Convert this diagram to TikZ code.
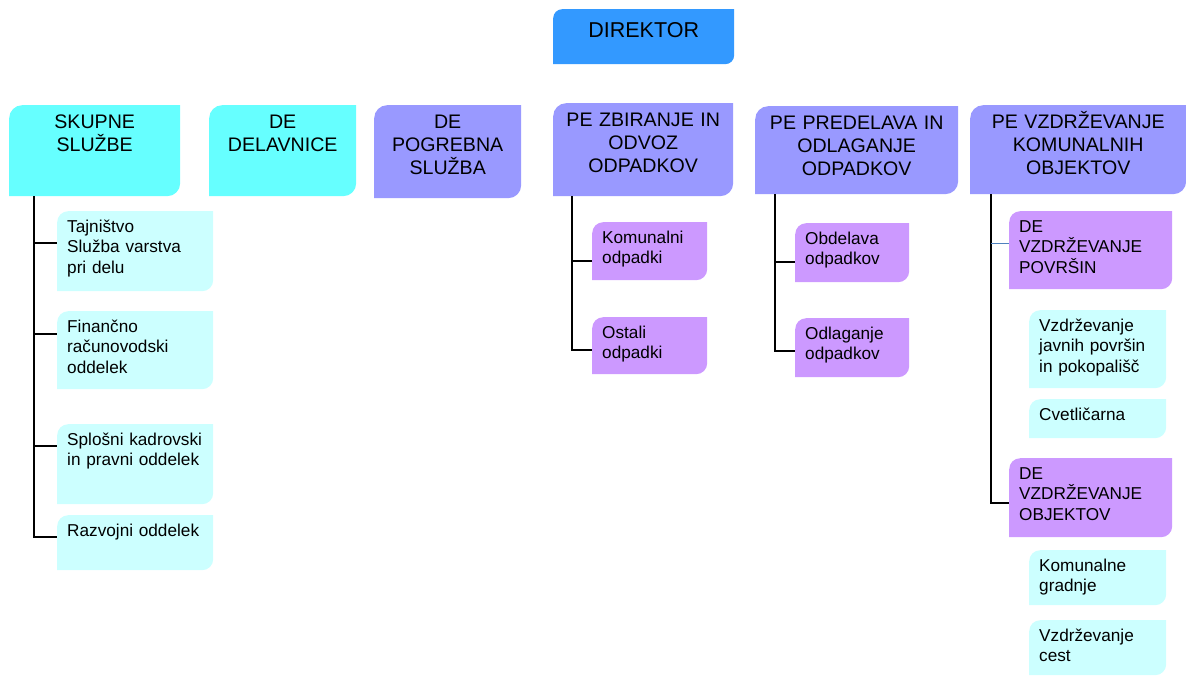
\documentclass[tikz,border=0pt]{standalone}
\usepackage{fontspec}
\setmainfont{Liberation Sans}

\definecolor{dirblue}{HTML}{3399FF}
\definecolor{unitcyan}{HTML}{66FFFF}
\definecolor{unitblue}{HTML}{9999FF}
\definecolor{subviolet}{HTML}{CC99FF}
\definecolor{subcyan}{HTML}{CCFFFF}
\definecolor{linkblue}{HTML}{4F81BD}

\tikzset{
  % fill with rounded top left and bottom right corners
  tlbr/.style 2 args={path picture={
    \fill[#1] (path picture bounding box.south west)
      -- ([yshift=-#2]path picture bounding box.north west)
      arc[start angle=180, end angle=90, radius=#2]
      -- (path picture bounding box.north east)
      -- ([yshift=#2]path picture bounding box.south east)
      arc[start angle=0, end angle=-90, radius=#2]
      -- cycle;}},
  headbox/.style={anchor=north west, inner sep=0pt, text width=181pt, align=center,
    font=\fontsize{21.5}{26}\selectfont, text height=28pt, text depth=27pt, tlbr={dirblue}{9pt}},
  unitbox/.style n args={3}{anchor=north west, inner sep=0pt, text width=#1pt, align=center,
    font=\fontsize{19.6}{23}\selectfont, text height=23pt, text depth=#2pt-23pt, tlbr={#3}{13pt}},
  subbox/.style n args={3}{anchor=north west, inner xsep=10pt, inner ysep=0pt, text width=#1pt-20pt,
    align=left, font=\fontsize{17.2}{20.6}\selectfont, text height=21pt, text depth=#2pt-21pt, tlbr={#3}{11pt}},
  link/.style={line width=1.5pt},
}

\begin{document}
\begin{tikzpicture}[x=1pt, y=-1pt]
  \useasboundingbox (0,0) rectangle (1186,675);

  \node[headbox] (dir) at (553,9) {DIREKTOR};

  % units
  \node[unitbox={171}{91}{unitcyan}] (ss)   at (9,105)   {SKUPNE\\SLUŽBE};
  \node[unitbox={147}{91}{unitcyan}] (del)  at (209,105) {DE\\DELAVNICE};
  \node[unitbox={147}{93}{unitblue}] (pog)  at (374,105) {DE\\POGREBNA\\SLUŽBA};
  \node[unitbox={180}{93}{unitblue}] (zbi)  at (553,103) {PE ZBIRANJE IN\\ODVOZ\\ODPADKOV};
  \node[unitbox={203}{88}{unitblue}] (pre)  at (755,106) {PE PREDELAVA IN\\ODLAGANJE\\ODPADKOV};
  \node[unitbox={216}{89}{unitblue}] (vzd)  at (970,105) {PE VZDRŽEVANJE\\KOMUNALNIH\\OBJEKTOV};

  % skupne sluzbe
  \node[subbox={156}{80}{subcyan}] (taj) at (57,211) {Tajništvo\\Služba varstva\\pri delu};
  \node[subbox={156}{78}{subcyan}] (fin) at (57,311) {Finančno\\računovodski\\oddelek};
  \node[subbox={156}{80}{subcyan}] (spl) at (57,424) {Splošni kadrovski\\in pravni oddelek};
  \node[subbox={156}{55}{subcyan}] (raz) at (57,515) {Razvojni oddelek};

  % odpadki
  \node[subbox={115}{58}{subviolet}] (kom) at (592,222) {Komunalni\\odpadki};
  \node[subbox={115}{57}{subviolet}] (ost) at (592,317) {Ostali\\odpadki};
  \node[subbox={114}{59}{subviolet}] (obd) at (795,223) {Obdelava\\odpadkov};
  \node[subbox={114}{59}{subviolet}] (odl) at (795,318) {Odlaganje\\odpadkov};

  % komunalni objekti
  \node[subbox={163}{78}{subviolet}] (povr) at (1009,211) {DE\\VZDRŽEVANJE\\POVRŠIN};
  \node[subbox={137}{78}{subcyan}]   (javn) at (1029,310) {Vzdrževanje\\javnih površin\\in pokopališč};
  \node[subbox={137}{39}{subcyan}]   (cvet) at (1029,399) {Cvetličarna};
  \node[subbox={163}{79}{subviolet}] (obj)  at (1009,458) {DE\\VZDRŽEVANJE\\OBJEKTOV};
  \node[subbox={137}{55}{subcyan}]   (grad) at (1029,550) {Komunalne\\gradnje};
  \node[subbox={137}{55}{subcyan}]   (cest) at (1029,620) {Vzdrževanje\\cest};

  % trunks
  \coordinate (ss-trunk)  at ([xshift=25pt]ss.south west);
  \coordinate (zbi-trunk) at ([xshift=19pt]zbi.south west);
  \coordinate (pre-trunk) at ([xshift=20pt]pre.south west);
  \coordinate (vzd-trunk) at ([xshift=21pt]vzd.south west);
  \coordinate (povr-in)   at ([yshift=-32pt]povr.north west);

  \draw[link] (ss-trunk) |- ([yshift=-32pt]taj.north west);
  \draw[link] (ss-trunk) |- ([yshift=-23pt]fin.north west);
  \draw[link] (ss-trunk) |- ([yshift=-22pt]spl.north west);
  \draw[link] (ss-trunk) |- ([yshift=-22pt]raz.north west);

  \draw[link] (zbi-trunk) |- ([yshift=-39pt]kom.north west);
  \draw[link] (zbi-trunk) |- ([yshift=-33pt]ost.north west);
  \draw[link] (pre-trunk) |- ([yshift=-39pt]obd.north west);
  \draw[link] (pre-trunk) |- ([yshift=-33pt]odl.north west);

  \draw[link] (vzd-trunk) |- ([yshift=-45pt]obj.north west);
  \draw[linkblue, line width=1pt] (vzd-trunk |- povr-in) -- (povr-in);
\end{tikzpicture}
\end{document}
